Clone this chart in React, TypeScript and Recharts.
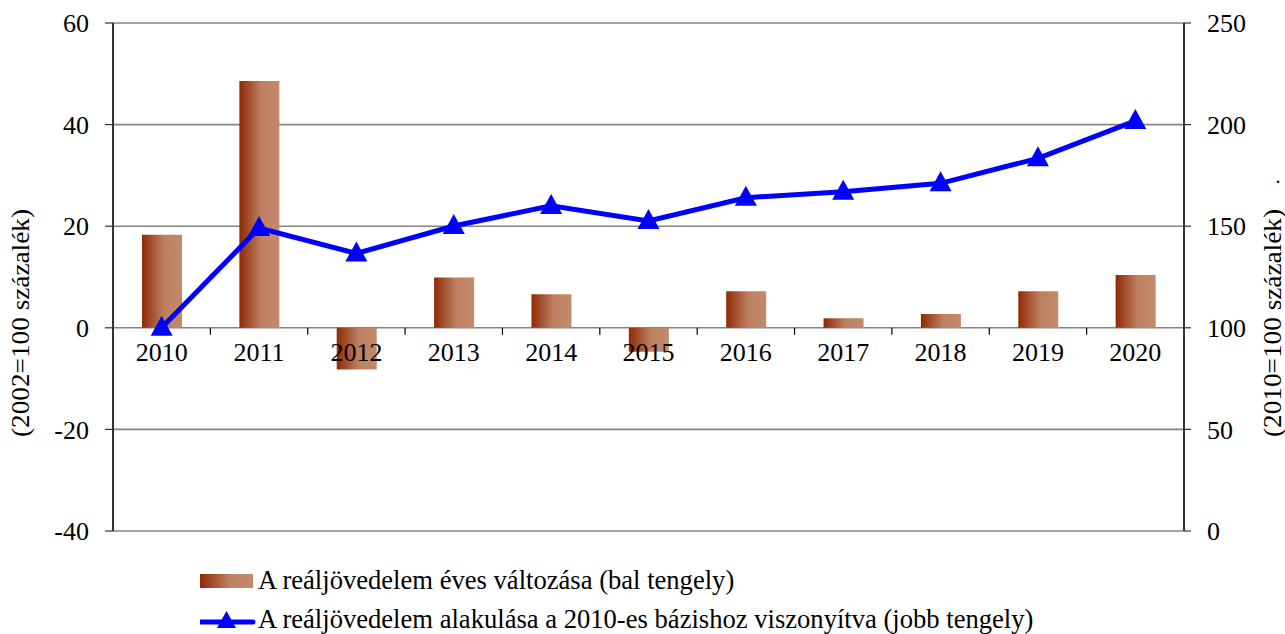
import React from 'react';
import { ComposedChart, Bar, Line, XAxis, YAxis, CartesianGrid } from 'recharts';

const years = ['2010', '2011', '2012', '2013', '2014', '2015', '2016', '2017', '2018', '2019', '2020'];
const annualChange = [18.3, 48.6, -8.2, 9.9, 6.6, -4.7, 7.2, 1.9, 2.7, 7.2, 10.4];
const index2010 = [100, 149.1, 136.6, 150.1, 160, 152.6, 164, 167, 171.1, 183.4, 201.8];
const leftTicks = [-40, -20, 0, 20, 40, 60];
const rightTicks = [0, 50, 100, 150, 200, 250];

const barLabel = 'A reáljövedelem éves változása (bal tengely)';
const lineLabel = 'A reáljövedelem alakulása a 2010-es bázishoz viszonyítva (jobb tengely)';

const data = years.map((year, i) => ({ year, change: annualChange[i], index: index2010[i] }));

const W = 1285;
const H = 634;
const PLOT_LEFT = 113;
const PLOT_RIGHT = 1184;
const PLOT_TOP = 23;
const PLOT_BOTTOM = 531;
const X_AXIS_H = 30;
const BAND = (PLOT_RIGHT - PLOT_LEFT) / years.length;
// where 0 of the left axis sits, the category labels hang from it
const ZERO_Y = PLOT_TOP + ((PLOT_BOTTOM - PLOT_TOP) * 60) / 100;
const TITLE_Y = 323;
const TITLE_LEN = 228;

const FONT = '"Liberation Serif", "Times New Roman", serif';

const XTick = (props: any) => {
  const { x, payload, index } = props;
  return (
    <g>
      {index > 0 && (
        <line x1={x - BAND / 2} x2={x - BAND / 2} y1={ZERO_Y} y2={ZERO_Y + 7} stroke="#000" strokeWidth={1.2} />
      )}
      <text x={x} y={ZERO_Y + 33} textAnchor="middle" fontFamily={FONT} fontSize={26} fill="#000">
        {payload.value}
      </text>
    </g>
  );
};

const Triangle = (props: any) => {
  const { cx, cy } = props;
  if (cx == null || cy == null) return null;
  return <polygon points={`${cx},${cy - 12} ${cx - 11},${cy + 8} ${cx + 11},${cy + 8}`} fill="#0000FF" />;
};

const LeftTitle = () => {
  const cx = 20;
  return (
    <text
      x={cx}
      y={TITLE_Y}
      transform={`rotate(-90, ${cx}, ${TITLE_Y})`}
      textAnchor="middle"
      dominantBaseline="central"
      textLength={TITLE_LEN}
      lengthAdjust="spacingAndGlyphs"
      style={{ fontFamily: FONT, fontSize: 26 }}
      fill="#000"
    >
      (2002=100 százalék)
    </text>
  );
};

const RightTitle = () => {
  const cx = 1272;
  return (
    <g>
      <text
        x={cx}
        y={TITLE_Y}
        transform={`rotate(-90, ${cx}, ${TITLE_Y})`}
        textAnchor="middle"
        dominantBaseline="central"
        textLength={TITLE_LEN}
        lengthAdjust="spacingAndGlyphs"
        style={{ fontFamily: FONT, fontSize: 26 }}
        fill="#000"
      >
        (2010=100 százalék)
      </text>
      <text x={cx + 6} y={183} textAnchor="middle" style={{ fontFamily: FONT, fontSize: 20 }} fill="#000">
        .
      </text>
    </g>
  );
};

const legendRow: React.CSSProperties = {
  display: 'flex',
  alignItems: 'center',
  height: 39,
  fontFamily: FONT,
  fontSize: 26.6,
  color: '#000',
  whiteSpace: 'nowrap',
};

const tickStyle = { fontFamily: FONT, fontSize: 26, fill: '#000', style: { fontFamily: FONT } };

export default function App() {
  return (
    <div style={{ position: 'absolute', left: 0, top: 0, width: W, height: H, background: '#fff', fontFamily: FONT }}>
      <ComposedChart
        width={W}
        height={H}
        data={data}
        margin={{ top: PLOT_TOP, right: 0, left: 0, bottom: H - PLOT_BOTTOM - X_AXIS_H }}
      >
        <defs>
          <linearGradient id="barGrad" x1="0" y1="0" x2="1" y2="0">
            <stop offset="0%" stopColor="#8E2A05" />
            <stop offset="55%" stopColor="#BE8062" />
            <stop offset="100%" stopColor="#C38A6C" />
          </linearGradient>
        </defs>
        <CartesianGrid yAxisId="left" vertical={false} stroke="#858585" strokeWidth={1.6} />
        <XAxis
          dataKey="year"
          height={X_AXIS_H}
          axisLine={false}
          tickLine={false}
          interval={0}
          tick={<XTick />}
        />
        <YAxis
          yAxisId="left"
          width={PLOT_LEFT}
          domain={[-40, 60]}
          ticks={leftTicks}
          interval={0}
          axisLine={{ stroke: '#333', strokeWidth: 2 }}
          tickLine={{ stroke: '#333', strokeWidth: 1.2 }}
          tickSize={8}
          tickMargin={16}
          tick={tickStyle}
          label={<LeftTitle />}
        />
        <YAxis
          yAxisId="right"
          orientation="right"
          width={W - PLOT_RIGHT}
          domain={[0, 250]}
          ticks={rightTicks}
          interval={0}
          axisLine={{ stroke: '#333', strokeWidth: 2 }}
          tickLine={{ stroke: '#333', strokeWidth: 1.2 }}
          tickSize={7}
          tickMargin={16}
          tick={{ ...tickStyle, textAnchor: 'start' }}
          label={<RightTitle />}
        />
        <Bar yAxisId="left" dataKey="change" name={barLabel} barSize={40} fill="url(#barGrad)" isAnimationActive={false} />
        <Line
          yAxisId="right"
          dataKey="index"
          name={lineLabel}
          stroke="#0000FF"
          strokeWidth={5}
          dot={<Triangle />}
          activeDot={false}
          isAnimationActive={false}
        />
      </ComposedChart>
      <div style={{ position: 'absolute', left: 200, top: 561 }}>
        <div style={legendRow}>
          <svg width={56} height={16} style={{ marginRight: 2 }}>
            <defs>
              <linearGradient id="legGrad" x1="0" y1="0" x2="1" y2="0">
                <stop offset="0%" stopColor="#8E2A05" />
                <stop offset="55%" stopColor="#BE8062" />
                <stop offset="100%" stopColor="#C38A6C" />
              </linearGradient>
            </defs>
            <rect x={0} y={1} width={53} height={14} fill="url(#legGrad)" />
          </svg>
          <span>{barLabel}</span>
        </div>
        <div style={legendRow}>
          <svg width={56} height={22} style={{ marginRight: 2 }}>
            <line x1={0} x2={53} y1={13} y2={13} stroke="#0000FF" strokeWidth={5} strokeLinecap="round" />
            <polygon points="26.5,2 17,19 36,19" fill="#0000FF" />
          </svg>
          <span>{lineLabel}</span>
        </div>
      </div>
    </div>
  );
}
